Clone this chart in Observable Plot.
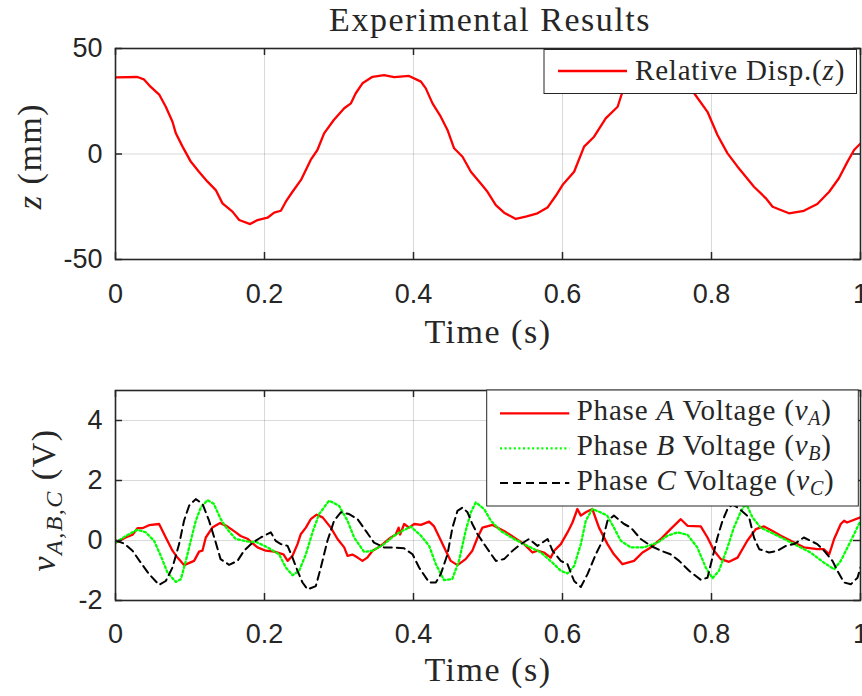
<!DOCTYPE html>
<html><head><meta charset="utf-8">
<script src="https://cdn.jsdelivr.net/npm/d3@7"></script>
<script src="https://cdn.jsdelivr.net/npm/@observablehq/plot@0.6"></script>
<style>
body{margin:0;background:#fff;}
#wrap{position:relative;width:862px;height:696px;overflow:hidden;background:#fff;}
#wrap > svg, #wrap > figure{position:absolute;left:0;margin:0;}
</style></head><body><div id="wrap"></div>
<script>
// ---- data ----
const xTicks = [0, 0.2, 0.4, 0.6, 0.8, 1];
const zTicks = [-50, 0, 50];
const vTicks = [-2, 0, 2, 4];

const tZ = [0, 0.0295, 0.038, 0.047, 0.059, 0.0675, 0.0765, 0.081, 0.09, 0.101, 0.112, 0.1235, 0.1346, 0.1436, 0.157, 0.166, 0.1807, 0.1906, 0.204, 0.213, 0.222, 0.2286, 0.2376, 0.249, 0.262, 0.271, 0.28, 0.293, 0.307, 0.316, 0.3225, 0.3315, 0.345, 0.3605, 0.374, 0.394, 0.41, 0.4165, 0.4255, 0.4366, 0.4456, 0.4545, 0.4658, 0.477, 0.49, 0.4993, 0.5105, 0.5216, 0.5373, 0.5507, 0.5664, 0.5798, 0.591, 0.6, 0.6156, 0.629, 0.6424, 0.658, 0.674, 0.6805, 0.69, 0.70, 0.715, 0.735, 0.755, 0.768, 0.7767, 0.7946, 0.808, 0.8215, 0.835, 0.857, 0.873, 0.882, 0.904, 0.924, 0.942, 0.958, 0.971, 0.9826, 0.9914, 1.0];
const zVals = [36.3, 36.5, 35.4, 31.9, 28, 22.4, 15.3, 9.8, 3.5, -3.6, -8.4, -13.1, -17.1, -23.4, -27.3, -31.3, -33.2, -31.3, -30.2, -27.8, -26.9, -22.6, -17.9, -12.3, -2.8, 1.9, 9.8, 16.1, 21.7, 24, 28.8, 33.5, 36.6, 37.4, 36.4, 37, 34.3, 31.1, 24, 17.7, 11.4, 2.7, -1.3, -8.4, -13.9, -17.9, -24.2, -27.8, -30.8, -29.7, -28.1, -25.4, -19.8, -14.7, -8.4, 3.5, 8.2, 16.9, 22.4, 29.5, 33, 35.5, 37, 37, 35, 32, 28.8, 20, 9, 0.3, -6, -15.5, -21, -25, -28.1, -26.9, -23.7, -17.9, -11.5, -3.6, 1.9, 5];

const tA = [0, 0.0138, 0.0228, 0.0295, 0.036, 0.045, 0.0585, 0.0675, 0.0765, 0.0832, 0.092, 0.1055, 0.1122, 0.1167, 0.1212, 0.13, 0.1404, 0.15, 0.1615, 0.168, 0.177, 0.1906, 0.2017, 0.213, 0.2255, 0.231, 0.2376, 0.2443, 0.2487, 0.2555, 0.262, 0.27, 0.278, 0.289, 0.298, 0.307, 0.3114, 0.318, 0.325, 0.3315, 0.338, 0.345, 0.356, 0.3695, 0.376, 0.38, 0.382, 0.3875, 0.394, 0.401, 0.41, 0.421, 0.4277, 0.4366, 0.4433, 0.45, 0.459, 0.47, 0.479, 0.486, 0.4926, 0.506, 0.5216, 0.535, 0.5485, 0.5597, 0.5664, 0.575, 0.5843, 0.5888, 0.5977, 0.6067, 0.6134, 0.62, 0.6246, 0.6313, 0.64, 0.649, 0.6604, 0.669, 0.6805, 0.696, 0.7074, 0.7185, 0.732, 0.745, 0.7588, 0.7678, 0.7856, 0.7946, 0.8035, 0.8125, 0.8236, 0.835, 0.848, 0.8595, 0.8706, 0.882, 0.893, 0.9064, 0.924, 0.942, 0.951, 0.958, 0.9646, 0.9735, 0.978, 0.982, 1.0];
const vA = [-0.07, 0.1, 0.19, 0.41, 0.41, 0.51, 0.55, 0.1, -0.34, -0.57, -0.82, -0.68, -0.37, -0.34, 0.1, 0.43, 0.58, 0.47, 0.27, 0.15, 0.06, -0.23, -0.34, -0.37, -0.46, -0.68, -0.51, -0.12, 0.21, 0.43, 0.71, 0.86, 0.77, 0.43, 0.05, -0.23, -0.51, -0.47, -0.57, -0.68, -0.57, -0.34, -0.18, 0.1, 0.19, 0.43, 0.2, 0.55, 0.43, 0.55, 0.52, 0.63, 0.47, 0.01, -0.34, -0.68, -0.82, -0.62, -0.34, 0.1, 0.43, 0.52, 0.32, 0.1, -0.12, -0.4, -0.34, -0.4, -0.57, -0.34, -0.12, 0.27, 0.6, 1.05, 0.83, 0.94, 1.05, 0.43, -0.12, -0.46, -0.79, -0.68, -0.4, -0.23, 0.05, 0.38, 0.71, 0.49, 0.47, 0.1, -0.34, -0.62, -0.71, -0.57, -0.01, 0.38, 0.47, 0.32, 0.16, -0.01, -0.23, -0.29, -0.29, -0.46, 0.05, 0.55, 0.66, 0.6, 0.77];

const tB = [0, 0.0138, 0.0295, 0.0407, 0.0518, 0.0608, 0.0698, 0.081, 0.0877, 0.0944, 0.101, 0.1078, 0.1145, 0.1235, 0.132, 0.1413, 0.15, 0.1615, 0.177, 0.19, 0.204, 0.2196, 0.2286, 0.2376, 0.2465, 0.2555, 0.2644, 0.2733, 0.2867, 0.30, 0.3114, 0.3203, 0.3337, 0.345, 0.3605, 0.374, 0.385, 0.3964, 0.41, 0.421, 0.43, 0.441, 0.452, 0.461, 0.47, 0.477, 0.4836, 0.4948, 0.5038, 0.517, 0.535, 0.553, 0.571, 0.5866, 0.5977, 0.6067, 0.6156, 0.6246, 0.6313, 0.64, 0.651, 0.66, 0.669, 0.6783, 0.6916, 0.7095, 0.7275, 0.741, 0.7544, 0.7678, 0.781, 0.7923, 0.8013, 0.81, 0.8215, 0.83, 0.839, 0.8437, 0.848, 0.855, 0.866, 0.8796, 0.8975, 0.9155, 0.933, 0.951, 0.9646, 0.9735, 0.9826, 0.9914, 1.0];
const vB = [-0.07, 0.15, 0.36, 0.27, -0.01, -0.51, -1.07, -1.38, -1.29, -0.68, -0.01, 0.66, 1.1, 1.35, 1.22, 0.71, 0.38, 0.05, -0.03, -0.06, -0.23, -0.46, -0.9, -1.16, -1.01, -0.46, 0.27, 0.88, 1.33, 1.16, 0.66, 0.1, -0.38, -0.34, -0.12, 0.16, 0.32, 0.46, 0.16, -0.18, -0.79, -1.32, -1.29, -0.68, 0.32, 0.94, 1.27, 1.05, 0.66, 0.32, 0.05, -0.18, -0.4, -0.74, -1.01, -1.1, -0.85, -0.12, 0.66, 1.05, 0.94, 0.83, 0.43, -0.01, -0.23, -0.23, -0.07, 0.16, 0.27, 0.19, -0.23, -0.9, -1.26, -1.01, -0.23, 0.43, 0.94, 1.15, 1.15, 0.77, 0.43, 0.27, 0.05, -0.18, -0.4, -0.74, -0.96, -0.68, -0.23, 0.21, 0.66];

const tC = [0, 0.0116, 0.0228, 0.034, 0.045, 0.0585, 0.0675, 0.0765, 0.0854, 0.092, 0.0988, 0.1078, 0.1168, 0.1256, 0.1346, 0.141, 0.1525, 0.1637, 0.1726, 0.184, 0.195, 0.2085, 0.215, 0.222, 0.231, 0.2376, 0.2443, 0.251, 0.2577, 0.2689, 0.2756, 0.2845, 0.2934, 0.3024, 0.3136, 0.325, 0.336, 0.347, 0.3605, 0.374, 0.3874, 0.3987, 0.4075, 0.421, 0.43, 0.4366, 0.4456, 0.4523, 0.459, 0.4658, 0.4725, 0.479, 0.486, 0.4948, 0.5105, 0.5216, 0.533, 0.544, 0.555, 0.5664, 0.58, 0.5866, 0.5977, 0.6067, 0.6156, 0.6246, 0.6336, 0.6447, 0.6537, 0.6604, 0.669, 0.6827, 0.6917, 0.705, 0.7185, 0.732, 0.745, 0.7566, 0.77, 0.7856, 0.7946, 0.8013, 0.808, 0.8148, 0.8215, 0.828, 0.835, 0.8505, 0.857, 0.864, 0.8773, 0.8886, 0.90, 0.911, 0.924, 0.942, 0.951, 0.9624, 0.969, 0.978, 0.987, 0.996, 1.0];
const vC = [0, -0.1, -0.34, -0.74, -1.12, -1.48, -1.35, -0.9, -0.12, 0.66, 1.16, 1.38, 1.22, 0.66, -0.07, -0.62, -0.81, -0.68, -0.34, -0.07, 0.1, 0.27, -0.01, -0.12, -0.18, -0.57, -1.01, -1.4, -1.63, -1.52, -0.9, -0.01, 0.66, 0.94, 0.88, 0.71, 0.32, -0.07, -0.23, -0.23, -0.26, -0.46, -0.9, -1.4, -1.4, -1.12, -0.46, 0.43, 0.99, 1.1, 0.94, 0.55, 0.21, -0.12, -0.68, -0.62, -0.34, -0.12, 0.05, -0.18, 0.05, -0.34, -0.68, -0.79, -1.35, -1.55, -1.12, -0.46, -0.01, 0.66, 0.83, 0.55, 0.43, 0.05, -0.18, -0.34, -0.46, -0.68, -1.01, -1.31, -1.24, -0.57, 0.1, 0.66, 1.05, 1.2, 1.1, 0.77, 0.1, -0.29, -0.4, -0.34, -0.18, -0.12, 0.1, -0.12, -0.34, -0.68, -1.01, -1.4, -1.46, -1.24, -0.9];

// ---- build ----
const zip = (t, v) => t.slice(0, Math.min(t.length, v.length)).map((x, i) => ({x, y: v[i]}));
const INK = "#262626";
const W = 862, ML = 115, MR = 2;
const FW = W - ML - MR;

function panel({height, mt, mb, yDomain, yTicks, series, tickPad}) {
  const FH = height - mt - mb;
  return Plot.plot({
    width: W, height,
    marginLeft: ML, marginRight: MR, marginTop: mt, marginBottom: mb,
    style: {fontFamily: "'Liberation Sans', Arial, sans-serif", fontSize: "27px", color: INK, background: "transparent", overflow: "visible"},
    x: {domain: [0, 1], axis: null},
    y: {domain: yDomain, axis: null},
    marks: [
      Plot.gridX(xTicks, {stroke: "#000", strokeOpacity: 0.15, strokeWidth: 1}),
      Plot.gridY(yTicks, {stroke: "#000", strokeOpacity: 0.15, strokeWidth: 1}),
      ...series.map(s => Plot.line(zip(s.t, s.v), {x: "x", y: "y", stroke: s.color, strokeWidth: s.width, strokeDasharray: s.dash, clip: true})),
      Plot.frame({stroke: INK, strokeWidth: 1.6}),
      Plot.tickX(xTicks, {x: d => d, insetTop: FH - 7, stroke: INK, strokeWidth: 1.5}),
      Plot.tickX(xTicks, {x: d => d, insetBottom: FH - 7, stroke: INK, strokeWidth: 1.5}),
      Plot.tickY(yTicks, {y: d => d, insetRight: FW - 7, stroke: INK, strokeWidth: 1.5}),
      Plot.tickY(yTicks, {y: d => d, insetLeft: FW - 7, stroke: INK, strokeWidth: 1.5}),
      Plot.axisX(xTicks, {tickSize: 0, tickPadding: tickPad, label: null, tickFormat: d => String(d), fontSize: 27, fill: INK}),
      Plot.axisY(yTicks, {tickSize: 0, tickPadding: 13, label: null, tickFormat: d => String(d), fontSize: 27, fill: INK})
    ]
  });
}

const wrap = document.getElementById("wrap");
const p1 = panel({height: 360, mt: 48, mb: 101, yDomain: [-50, 50], yTicks: zTicks, tickPad: 24,
  series: [{t: tZ, v: zVals, color: "#ff0000", width: 2.3}]});
p1.style.top = "0px";
wrap.appendChild(p1);

const p2 = panel({height: 354, mt: 48, mb: 96, yDomain: [-2, 5], yTicks: vTicks, tickPad: 23,
  series: [
    {t: tA, v: vA, color: "#ff0000", width: 2.3},
    {t: tB, v: vB, color: "#00ff00", width: 2.3, dash: "2 2.6"},
    {t: tC, v: vC, color: "#000000", width: 2, dash: "8 5"}
  ]});
p2.style.top = "342px";
wrap.appendChild(p2);

// ---- titles, axis labels, legends (overlay) ----
const ns = "http://www.w3.org/2000/svg";
const ov = d3.select(wrap).append("svg").attr("width", W).attr("height", 696)
  .style("position", "absolute").style("left", 0).style("top", 0)
  .attr("font-family", "'Liberation Serif', 'Times New Roman', serif").attr("fill", INK);

ov.append("text").attr("x", 490).attr("y", 31).attr("text-anchor", "middle")
  .attr("font-size", 34).attr("letter-spacing", 1.5).text("Experimental Results");
ov.append("text").attr("x", 488).attr("y", 343).attr("text-anchor", "middle")
  .attr("font-size", 34).attr("letter-spacing", 1.5).text("Time (s)");
ov.append("text").attr("x", 488).attr("y", 681).attr("text-anchor", "middle")
  .attr("font-size", 34).attr("letter-spacing", 1.5).text("Time (s)");

// y labels
const yl1 = ov.append("text").attr("transform", "translate(41,156) rotate(-90)")
  .attr("text-anchor", "middle").attr("font-size", 34).attr("letter-spacing", 1.5);
yl1.append("tspan").attr("font-style", "italic").text("z");
yl1.append("tspan").text(" (mm)");

const yl2 = ov.append("text").attr("transform", "translate(55,500) rotate(-90)")
  .attr("text-anchor", "middle").attr("font-size", 34).attr("letter-spacing", 1.5);
yl2.append("tspan").attr("font-style", "italic").text("v");
yl2.append("tspan").attr("font-style", "italic").attr("font-size", 24).attr("dy", 7).text("A,B,C");
yl2.append("tspan").attr("dy", -7).text(" (V)");

// legend 1
const lg1 = ov.append("g");
lg1.append("rect").attr("x", 544).attr("y", 49.5).attr("width", 312.5).attr("height", 44)
  .attr("fill", "#fff").attr("stroke", INK).attr("stroke-width", 1);
lg1.append("line").attr("x1", 558).attr("x2", 627).attr("y1", 71).attr("y2", 71)
  .attr("stroke", "#ff0000").attr("stroke-width", 2.3);
const lt1 = lg1.append("text").attr("x", 635).attr("y", 80).attr("font-size", 29).attr("letter-spacing", 0.8);
lt1.append("tspan").text("Relative Disp.(");
lt1.append("tspan").attr("font-style", "italic").text("z");
lt1.append("tspan").text(")");

// legend 2
const lg2 = ov.append("g");
lg2.append("rect").attr("x", 486.7).attr("y", 390).attr("width", 371.6).attr("height", 116)
  .attr("fill", "#fff").attr("stroke", INK).attr("stroke-width", 1);
const rows = [
  {ph: "A", color: "#ff0000", width: 2.3, dash: null, y: 413.3, base: 420},
  {ph: "B", color: "#00ff00", width: 2.3, dash: "2 2.6", y: 448.3, base: 455},
  {ph: "C", color: "#000000", width: 2, dash: "8 5", y: 483, base: 489.5}
];
rows.forEach(r => {
  lg2.append("line").attr("x1", 500).attr("x2", 569.3).attr("y1", r.y).attr("y2", r.y)
    .attr("stroke", r.color).attr("stroke-width", r.width).attr("stroke-dasharray", r.dash);
  const t = lg2.append("text").attr("x", 576.7).attr("y", r.base).attr("font-size", 29).attr("letter-spacing", 0.8);
  t.append("tspan").text("Phase ");
  t.append("tspan").attr("font-style", "italic").text(r.ph);
  t.append("tspan").text(" Voltage (");
  t.append("tspan").attr("font-style", "italic").text("v");
  t.append("tspan").attr("font-style", "italic").attr("font-size", 20).attr("dy", 5).text(r.ph);
  t.append("tspan").attr("dy", -5).text(")");
});
</script></body></html>
